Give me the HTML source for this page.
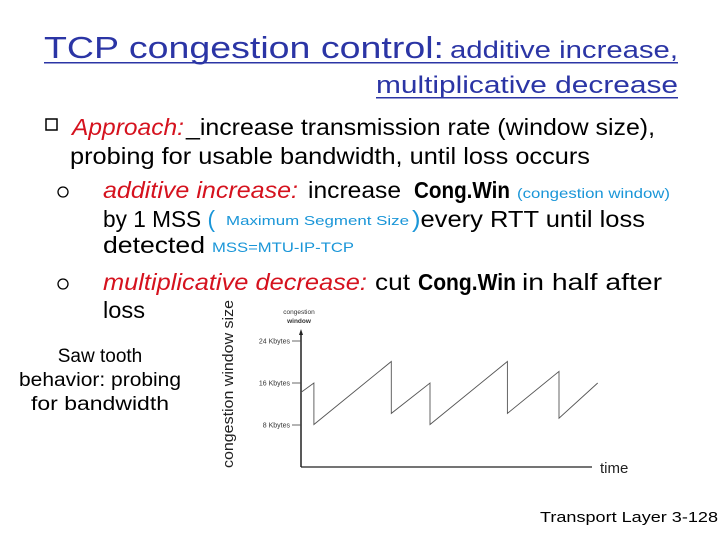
<!DOCTYPE html>
<html><head><meta charset="utf-8">
<style>
html,body{margin:0;padding:0;background:#fff;}
svg{display:block;font-family:"Liberation Sans",sans-serif;}
</style></head>
<body>
<svg width="720" height="540" viewBox="0 0 720 540">
<g fill="#2b35a5">
<text x="44" y="58" font-size="31" textLength="400" lengthAdjust="spacingAndGlyphs">TCP congestion control:</text>
<text x="450" y="58" font-size="24" textLength="228" lengthAdjust="spacingAndGlyphs">additive increase,</text>
<rect x="44" y="62" width="634" height="1.5"/>
<text x="376" y="93" font-size="24" textLength="302" lengthAdjust="spacingAndGlyphs">multiplicative decrease</text>
<rect x="376" y="97" width="302" height="1.5"/>
</g>
<g font-size="23" fill="#000">
<rect x="46" y="119" width="11" height="11" fill="none" stroke="#000" stroke-width="1.5"/>
<text x="72" y="135" font-style="italic" fill="#d5121e" textLength="112" lengthAdjust="spacingAndGlyphs">Approach:</text>
<text x="186" y="135" textLength="469" lengthAdjust="spacingAndGlyphs">_increase transmission rate (window size),</text>
<text x="70" y="164" textLength="520" lengthAdjust="spacingAndGlyphs">probing for usable bandwidth, until loss occurs</text>

<circle cx="63" cy="192" r="5" fill="none" stroke="#000" stroke-width="1.3"/>
<text x="103" y="198" font-style="italic" fill="#d5121e" textLength="195" lengthAdjust="spacingAndGlyphs">additive increase:</text>
<text x="308" y="198" textLength="93" lengthAdjust="spacingAndGlyphs">increase</text>
<text x="414" y="198" font-weight="bold" textLength="96" lengthAdjust="spacingAndGlyphs">Cong.Win</text>
<text x="517" y="198" font-size="14" fill="#1a96d8" textLength="153" lengthAdjust="spacingAndGlyphs">(congestion window)</text>
<text x="103" y="227" textLength="112" lengthAdjust="spacingAndGlyphs">by 1 MSS <tspan fill="#1a96d8">(</tspan></text>
<text x="226" y="225" font-size="13" fill="#1a96d8" textLength="183" lengthAdjust="spacingAndGlyphs">Maximum Segment Size</text>
<text x="412" y="227" textLength="233" lengthAdjust="spacingAndGlyphs"><tspan fill="#1a96d8">)</tspan>every RTT until loss</text>
<text x="103" y="253" textLength="102" lengthAdjust="spacingAndGlyphs">detected</text>
<text x="212" y="252" font-size="14" fill="#1a96d8" textLength="142" lengthAdjust="spacingAndGlyphs">MSS=MTU-IP-TCP</text>

<circle cx="63" cy="284" r="5" fill="none" stroke="#000" stroke-width="1.3"/>
<text x="103" y="290" font-style="italic" fill="#d5121e" textLength="264" lengthAdjust="spacingAndGlyphs">multiplicative decrease:</text>
<text x="375" y="290" textLength="35" lengthAdjust="spacingAndGlyphs">cut</text>
<text x="418" y="290" font-weight="bold" textLength="98" lengthAdjust="spacingAndGlyphs">Cong.Win</text>
<text x="522" y="290" textLength="140" lengthAdjust="spacingAndGlyphs">in half after</text>
<text x="103" y="318" textLength="42" lengthAdjust="spacingAndGlyphs">loss</text>
</g>
<g font-size="19" text-anchor="middle">
<text x="100" y="362">Saw tooth</text>
<text x="100" y="386" textLength="162" lengthAdjust="spacingAndGlyphs">behavior: probing</text>
<text x="100" y="410" textLength="138" lengthAdjust="spacingAndGlyphs">for bandwidth</text>
</g>
<text transform="translate(233,384) rotate(-90)" text-anchor="middle" font-size="15" fill="#222" textLength="168" lengthAdjust="spacingAndGlyphs">congestion window size</text>
<text x="600" y="473" font-size="15" fill="#222">time</text>
<text x="540" y="522" font-size="15" textLength="178" lengthAdjust="spacingAndGlyphs">Transport Layer 3-128</text>

<g id="chart">
<text x="299" y="314" font-size="6.5" fill="#333" text-anchor="middle">congestion</text>
<text x="299" y="323" font-size="6.5" font-weight="bold" fill="#333" text-anchor="middle">window</text>
<line x1="301" y1="333" x2="301" y2="467" stroke="#222" stroke-width="1.5"/>
<polygon points="301,329 299,335 303,335" fill="#222"/>
<line x1="301" y1="467" x2="592" y2="467" stroke="#222" stroke-width="1.2"/>
</g>
</svg>
<script>
const tickValues=[8,16,24];
const tickLabels=["8 Kbytes","16 Kbytes","24 Kbytes"];
const timeValues=[0,1,1,7,7,10,10,16,16,20,20,23];
const windowValues=[14.2,16,8.1,20.1,10.2,16,8.1,20.1,10.2,18.2,9.3,16];
const NS="http://www.w3.org/2000/svg";
const chart=document.getElementById('chart');
function yScale(v){return 467-v*5.25;}
function xScale(t){return 301+t*12.9;}
tickValues.forEach((v,i)=>{
  const y=yScale(v);
  const l=document.createElementNS(NS,'line');
  l.setAttribute('x1',292);l.setAttribute('x2',301);l.setAttribute('y1',y);l.setAttribute('y2',y);
  l.setAttribute('stroke','#444');l.setAttribute('stroke-width','0.8');
  
  
  chart.appendChild(l);
  const t=document.createElementNS(NS,'text');
  t.setAttribute('x',290);t.setAttribute('y',y+2.5);t.setAttribute('font-size','7');
  t.setAttribute('text-anchor','end');t.setAttribute('fill','#333');
  t.textContent=tickLabels[i];
  
  
  chart.appendChild(t);
});
const pts=timeValues.map((t,i)=>xScale(t).toFixed(1)+','+yScale(windowValues[i]).toFixed(1)).join(' ');
const pl=document.createElementNS(NS,'polyline');
pl.setAttribute('points',pts);pl.setAttribute('fill','none');
pl.setAttribute('stroke','#555');pl.setAttribute('stroke-width','0.9');


chart.appendChild(pl);
</script>
</body></html>
